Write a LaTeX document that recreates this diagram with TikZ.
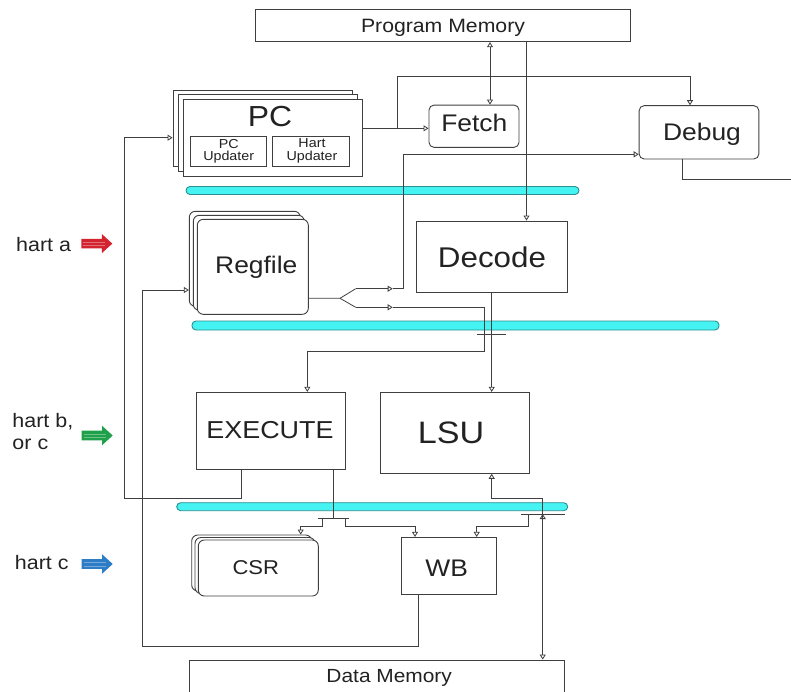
\documentclass[tikz,border=0pt]{standalone}
\usepackage{fontspec}
\setmainfont{Liberation Sans}[FakeStretch=1.1]
\usetikzlibrary{arrows.meta,calc}
\definecolor{ln}{HTML}{3F3F3F}
\definecolor{txt}{HTML}{222222}
\definecolor{barfill}{HTML}{46F3F3}
\definecolor{barline}{HTML}{2B8F8F}
\definecolor{hred}{HTML}{D2232F}
\definecolor{hgreen}{HTML}{1FA04B}
\definecolor{hblue}{HTML}{2C7CC6}
\newcommand{\myfs}[2]{\fontsize{#1}{#2}\selectfont}
\begin{document}
\begin{tikzpicture}[x=1pt,y=-1pt,
  box/.style={draw=ln, line width=0.9pt, fill=white, inner sep=0pt},
  rbox/.style={box, rounded corners=5pt},
  stackr/.style={box, rounded corners=6pt},
  lbl/.style={inner sep=0pt, text=txt, anchor=base},
  mlbl/.style={inner sep=0pt, text=txt, align=center},
  bar/.style={draw=barline, line width=0.9pt, fill=barfill, rounded corners=4pt, inner sep=0pt},
  conn/.style={draw=ln, line width=0.8pt},
  toarr/.style={-{Triangle[open,length=5pt,width=6pt]}},
  botharr/.style={{Triangle[open,length=5pt,width=6pt]}-{Triangle[open,length=5pt,width=6pt]}},
  harrow/.pic={
    \fill (0,-4.8) -- (20.5,-4.8) -- (20.5,-9.6) -- (31,0) -- (20.5,9.6) -- (20.5,4.8) -- (0,4.8) -- cycle;
    \draw[white, opacity=0.35, line width=0.6pt] (2,-1.6) -- (24,-1.6) (2,1.8) -- (24,1.8);
  }
]
\useasboundingbox (0,0) rectangle (791,691);
\clip (0,0) rectangle (791,691);

% helper coordinates
\coordinate (x124) at (124.3,0);
\coordinate (x142) at (142.3,0);
\coordinate (x242) at (241.7,0);
\coordinate (x301) at (300.7,0);
\coordinate (x307) at (307.3,0);
\coordinate (x322) at (322.3,0);
\coordinate (x333) at (333,0);
\coordinate (x345) at (345,0);
\coordinate (x393) at (392.7,0);
\coordinate (x403) at (403.3,0);
\coordinate (x415) at (415,0);
\coordinate (x418) at (418.3,0);
\coordinate (x477) at (476.7,0);
\coordinate (x484) at (484.3,0);
\coordinate (x490) at (490,0);
\coordinate (x492) at (491.7,0);
\coordinate (x526) at (526.5,0);
\coordinate (x529) at (528.7,0);
\coordinate (x543) at (542.7,0);
\coordinate (x682) at (682,0);
\coordinate (x690) at (690,0);
\coordinate (y76) at (0,76);
\coordinate (y128) at (0,128.3);
\coordinate (y138) at (0,137.7);
\coordinate (y154) at (0,154.3);
\coordinate (y290) at (0,290);
\coordinate (y334) at (0,334);
\coordinate (y352) at (0,351.7);
\coordinate (y498) at (0,498.3);
\coordinate (y514) at (0,514);
\coordinate (y518) at (0,518.3);
\coordinate (y526) at (0,526.3);
\coordinate (y527) at (0,526.7);
\coordinate (y646) at (0,646);
\coordinate (j1) at (397.3,128.3);
\coordinate (sp) at (340,298.3);
\coordinate (spu) at (355.7,288.7);
\coordinate (spd) at (355.7,307.3);
\coordinate (dbgout) at (791,179);

% pipeline bars
\node[bar, minimum width=393, minimum height=8] (bar1) at (382.5,190.5) {};
\node[bar, minimum width=527, minimum height=9] (bar2) at (455.5,325.5) {};
\node[bar, minimum width=391, minimum height=8] (bar3) at (372.2,506.7) {};

% Program memory
\node[box, minimum width=375.5, minimum height=32.4] (pm) at (443,25.5) {};
\node[lbl, font=\myfs{19.3}{23}] (pmT) at (443,32.9) {Program Memory};

% PC stack
\node[box, minimum width=179, minimum height=76] (pcback) at (262.5,128) {};
\node[box, minimum width=179, minimum height=77] (pcmid) at (267.5,132.5) {};
\node[box, minimum width=179, minimum height=77] (pc) at (272.5,137.5) {};
\node[lbl, font=\myfs{29}{32}] (pcT) at (270,126.4) {PC};
\node[box, minimum width=76, minimum height=30] (pcu) at (228.7,151) {};
\node[mlbl, font=\myfs{13}{12.6}] (pcuT) at (228.7,151.5) {PC\\Updater};
\node[box, minimum width=76.3, minimum height=30] (hu) at (310.8,151) {};
\node[mlbl, font=\myfs{13}{12.8}] (huT) at (312,151) {Hart\\Updater};

% Fetch / Debug
\node[rbox, minimum width=90, minimum height=42.3] (fetch) at (474,126.2) {};
\node[lbl, font=\myfs{24}{28}] (fetchT) at (474.3,131.6) {Fetch};
\node[rbox, minimum width=119.7, minimum height=53.3] (debug) at (699,132.3) {};
\node[lbl, font=\myfs{24}{28}] (debugT) at (702,140.9) {Debug};

% Regfile stack
\node[stackr, minimum width=111, minimum height=95] (rfback) at (244.8,258.8) {};
\node[stackr, minimum width=111, minimum height=95] (rfmid) at (248.8,262.8) {};
\node[stackr, minimum width=111, minimum height=95] (rf) at (252.8,266.8) {};
\node[lbl, font=\myfs{24}{28}] (rfT) at (256.3,273.9) {Regfile};

% Decode
\node[box, minimum width=151, minimum height=71] (decode) at (491.5,256.5) {};
\node[lbl, font=\myfs{28.5}{32}] (decodeT) at (492,267.2) {Decode};

% Execute / LSU
\node[box, minimum width=148.7, minimum height=77.4] (execute) at (270.7,431) {};
\node[lbl, font=\myfs{24.5}{28}] (executeT) at (270,438.3) {EXECUTE};
\node[box, minimum width=149, minimum height=81] (lsu) at (454.8,432.8) {};
\node[lbl, font=\myfs{31}{34}] (lsuT) at (451,443.1) {LSU};

% CSR stack
\node[stackr, minimum width=120, minimum height=56] (csrback) at (251.7,563) {};
\node[stackr, minimum width=120, minimum height=56] (csrmid) at (255,565.5) {};
\node[stackr, minimum width=120, minimum height=56] (csr) at (258.3,568) {};
\node[lbl, font=\myfs{20}{24}] (csrT) at (255.8,574) {CSR};

% WB
\node[box, minimum width=95.7, minimum height=56.7] (wb) at (448.8,565.7) {};
\node[lbl, font=\myfs{24}{28}] (wbT) at (446.7,576.3) {WB};

% Data memory
\node[box, minimum width=375, minimum height=32] (dm) at (376.8,676) {};
\node[lbl, font=\myfs{19}{23}] (dmT) at (389.2,682.6) {Data Memory};

% hart labels and arrows
\node[lbl, anchor=base west, font=\myfs{19.5}{22}] (ha) at (16,251.5) {hart a};
\node[inner sep=0pt, text=txt, anchor=north west, align=left, font=\myfs{19.5}{22}] (hb) at (12.3,413.3) {hart b,\\or c};
\node[lbl, anchor=base west, font=\myfs{19.5}{22}] (hc) at (14.7,569.5) {hart c};
\pic[fill=hred] at (81.3,243.6) {harrow};
\pic[fill=hgreen] at (81.7,435.5) {harrow};
\pic[fill=hblue] at (81.7,564) {harrow};

% connectors
\draw[conn, botharr] (pm.south -| x490) -- (fetch.north -| x490);
\draw[conn, toarr] (pm.south -| x526) -- (decode.north -| x526);
\draw[conn, toarr] (pc.east |- y128) -- (fetch.west |- y128);
\draw[conn, toarr] (j1) -- (j1 |- y76) -| (debug.north -| x690);
\draw[conn] (debug.south -| x682) |- (dbgout);

% regfile splitter
\draw[conn] (rf.east |- sp) -- (sp) -- (spu);
\draw[conn] (sp) -- (spd);
\draw[conn, toarr] (spu) -- (spu -| x393);
\draw[conn, toarr] (spu -| x393) -| (x403 |- y154) -- (debug.west |- y154);
\draw[conn, toarr] (spd) -- (spd -| x393);
\draw[conn, toarr] (spd -| x393) -| (x484 |- y352) -| (execute.north -| x307);

% decode -> LSU
\draw[conn, toarr] (decode.south -| x492) -- (lsu.north -| x492);
\draw[conn] (x492 |- y334) ++(-15,0) -- ++(29.3,0);

% execute -> PC
\draw[conn, toarr] (execute.south -| x242) |- (x124 |- y498) |- (pcback.west |- y138);
% WB -> regfile
\draw[conn, toarr] (wb.south -| x418) |- (x142 |- y646) |- (rfback.west |- y290);

% execute -> CSR / WB
\draw[conn] (execute.south -| x333) -- (x333 |- y518);
\draw[conn] (x333 |- y518) ++(-15.3,0) -- ++(31.6,0);
\draw[conn, toarr] (x322 |- y518) |- (x301 |- y527) -- (csrback.north -| x301);
\draw[conn, toarr] (x345 |- y518) |- (x415 |- y527) -- (wb.north -| x415);

% LSU <-> data memory
\draw[conn, botharr] (lsu.south -| x492) |- (x543 |- y498) -- (dm.north -| x543);
\draw[conn] (x543 |- y514) ++(-21.7,0) -- ++(44,0);
\draw[conn, toarr] (x543 |- y514) ++(0,6) -- ++(0,-6);
\draw[conn, toarr] (x529 |- y514) |- (x477 |- y526) -- (wb.north -| x477);
\end{tikzpicture}
\end{document}
